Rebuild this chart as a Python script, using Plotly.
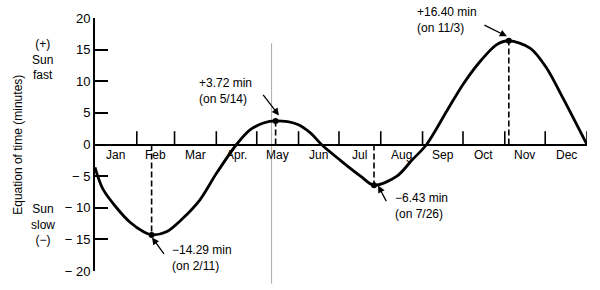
import plotly.graph_objects as go

# ---- data ----
curve_day = [0, 2.5, 6, 16, 26, 36, 42, 53, 65, 78, 90, 105, 115, 125, 134, 150, 160, 168,
             182, 197, 207, 224, 235, 246, 261, 273, 286, 298, 307, 323, 335, 347, 357, 365]
curve_val = [-3.6, -5.3, -7.1, -10.0, -12.3, -13.8, -14.29, -13.8, -11.7, -8.7, -4.6, 0.0, 2.3, 3.4, 3.72,
             3.2, 1.8, 0.0, -2.5, -5.0, -6.43, -5.0, -2.5, 0.0, 5.3, 9.5, 13.2, 15.8, 16.40,
             15.2, 12.1, 7.4, 3.3, 0.0]

extreme_day = [42, 134, 207, 307]
extreme_val = [-14.29, 3.72, -6.43, 16.40]
extreme_text = ["−14.29 min<br>(on 2/11)", "+3.72 min<br>(on 5/14)",
                "−6.43 min<br>(on 7/26)", "+16.40 min<br>(on 11/3)"]

month_labels = ["Jan", "Feb", "Mar", "Apr.", "May", "Jun", "Jul", "Aug", "Sep", "Oct", "Nov", "Dec"]
month_start = [0, 31, 59, 90, 120, 151, 181, 212, 243, 273, 304, 334, 365]

y_tickvals = [-20, -15, -10, -5, 0, 5, 10, 15, 20]
y_ticktext = ["− 20", "− 15", "− 10", "− 5", "0", "5", "10", "15", "20"]

FONT = "Liberation Sans, Arial, sans-serif"

fig = go.Figure()

# month boundary ticks rising from the zero line
tx, ty = [], []
for m in month_start[1:]:
    tx += [m, m, None]
    ty += [0, 2.1, None]
fig.add_trace(go.Scatter(x=tx, y=ty, mode="lines", line=dict(color="black", width=1.6),
                         hoverinfo="skip", showlegend=False))

# dashed drop lines at extremes
for d, v in zip(extreme_day, extreme_val):
    fig.add_trace(go.Scatter(x=[d, d], y=[0, v], mode="lines",
                             line=dict(color="black", width=1.6, dash="6px,3px"),
                             hoverinfo="skip", showlegend=False))

# main curve
fig.add_trace(go.Scatter(x=curve_day, y=curve_val, mode="lines",
                         line=dict(color="black", width=2.8, shape="spline", smoothing=0.9),
                         showlegend=False))

# dots at extremes
fig.add_trace(go.Scatter(x=extreme_day, y=extreme_val, mode="markers",
                         marker=dict(color="black", size=6), showlegend=False))

annotations = []
# month labels
for i, lab in enumerate(month_labels):
    mid = (month_start[i] + month_start[i + 1]) / 2
    annotations.append(dict(x=mid, y=-1.6, xref="x", yref="y", text=lab, showarrow=False,
                            font=dict(family=FONT, size=12, color="black"),
                            xanchor="center", yanchor="middle"))

# extreme labels (text) and arrows
text_pos = [(55.6, -17.9), (75.7, 8.5), (221, -9.8), (237.4, 19.7)]
arrow_head = [(42.3, -14.7), (136.5, 4.6), (210, -6.5), (305.6, 17.1)]
arrow_off = [(13, 18), (-17, -22), (9, 17), (-24, -12)]
for (tx_, ty_), txt, (hx, hy), (ax, ay) in zip(text_pos, extreme_text, arrow_head, arrow_off):
    annotations.append(dict(x=tx_, y=ty_, xref="x", yref="y", text=txt, showarrow=False,
                            font=dict(family=FONT, size=12, color="black"),
                            xanchor="left", yanchor="middle", align="left"))
    annotations.append(dict(x=hx, y=hy, xref="x", yref="y", text="", showarrow=True,
                            ax=ax, ay=ay, arrowhead=2, arrowsize=1.1, arrowwidth=1.3,
                            arrowcolor="black"))

# left side labels
annotations.append(dict(x=-0.106, y=13.4, xref="paper", yref="y", text="(+)<br>Sun<br>fast",
                        showarrow=False, font=dict(family=FONT, size=12, color="black"),
                        xanchor="center", yanchor="middle", align="center"))
annotations.append(dict(x=-0.106, y=-12.7, xref="paper", yref="y", text="Sun<br>slow<br>(−)",
                        showarrow=False, font=dict(family=FONT, size=12, color="black"),
                        xanchor="center", yanchor="middle", align="center"))
annotations.append(dict(x=-0.158, y=0, xref="paper", yref="y", text="Equation of time (minutes)",
                        textangle=-90, showarrow=False,
                        font=dict(family=FONT, size=12, color="black"),
                        xanchor="center", yanchor="middle"))

fig.update_layout(
    width=600, height=290,
    margin=dict(l=95, r=13, t=17, b=11),
    paper_bgcolor="white", plot_bgcolor="white",
    annotations=annotations,
    shapes=[dict(type="line", xref="x", yref="paper", x0=131, x1=131, y0=0.9, y1=-0.05,
                 line=dict(color="#aaaaaa", width=1), layer="below")],
    xaxis=dict(range=[0, 365], visible=False, fixedrange=True),
    yaxis=dict(range=[-20, 20], tickvals=y_tickvals, ticktext=y_ticktext,
               showline=True, linecolor="black", linewidth=2,
               ticks="inside", ticklen=13, tickwidth=2, tickcolor="black",
               showgrid=False, zeroline=True, zerolinecolor="black", zerolinewidth=2,
               tickfont=dict(family=FONT, size=13, color="black"), fixedrange=True),
)

fig.write_html("out.html")
